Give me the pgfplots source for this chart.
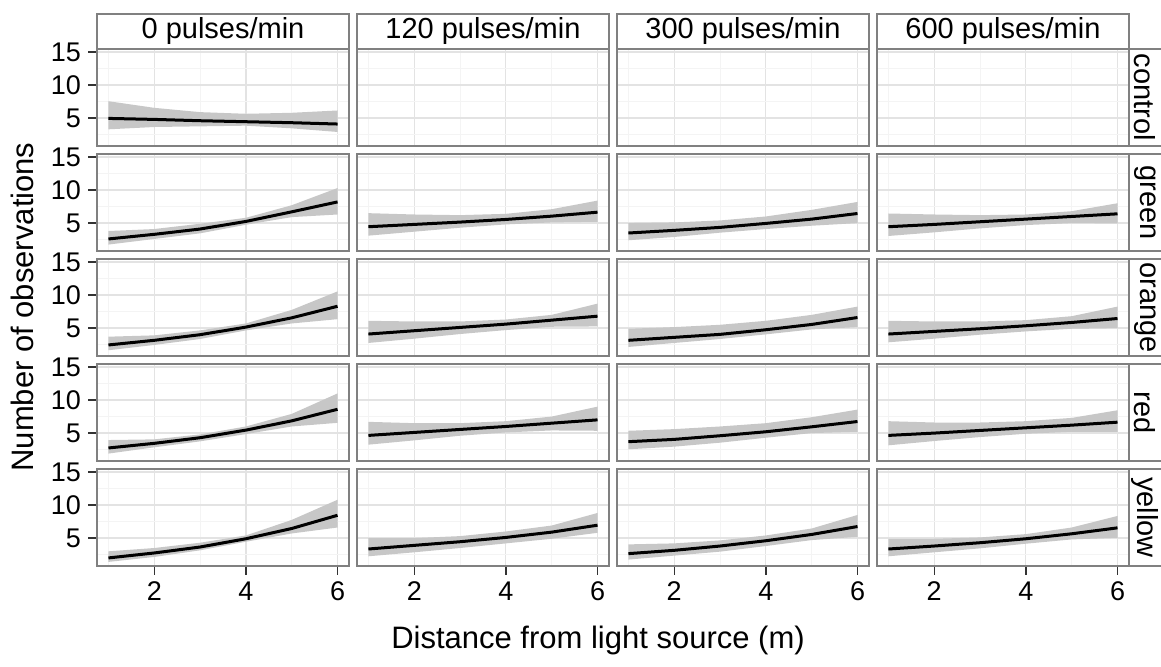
\documentclass[border=0pt]{standalone}
\usepackage{fontspec}
\setmainfont{Liberation Sans}
\usepackage{pgfplots}
\usepackage{pgfplotstable}
\pgfplotsset{compat=1.18}
\usepgfplotslibrary{groupplots,fillbetween}
\usetikzlibrary{calc}

\definecolor{border}{gray}{0.5}
\definecolor{band}{gray}{0.78}
\newcommand\tickfont{\fontsize{13.5}{15}\selectfont}
\newcommand\stripfont{\fontsize{14.5}{16}\selectfont}
\newcommand\titlefont{\fontsize{15.5}{17}\selectfont}

% x = distance (m), y = fitted count, lo/hi = ribbon
\pgfplotstableread{
x y lo hi
1 4.95 3.30 7.55
2 4.80 3.65 6.55
3 4.60 3.75 5.90
4 4.45 3.85 5.65
5 4.30 3.45 5.80
6 4.10 2.90 6.15
}\ctrlA
\pgfplotstableread{
x y lo hi
1 2.60 1.75 3.80
2 3.30 2.60 4.10
3 4.10 3.45 4.90
4 5.25 4.75 5.80
5 6.70 5.90 7.70
6 8.20 6.30 10.30
}\gA
\pgfplotstableread{
x y lo hi
1 4.45 3.10 6.50
2 4.80 3.70 6.30
3 5.15 4.30 6.20
4 5.55 4.80 6.40
5 6.05 5.10 7.10
6 6.65 5.20 8.40
}\gB
\pgfplotstableread{
x y lo hi
1 3.50 2.40 5.00
2 3.90 2.90 5.10
3 4.35 3.55 5.40
4 4.95 4.10 6.00
5 5.60 4.60 7.00
6 6.45 5.00 8.20
}\gC
\pgfplotstableread{
x y lo hi
1 4.45 3.05 6.45
2 4.80 3.60 6.30
3 5.20 4.20 6.20
4 5.60 4.70 6.30
5 6.00 5.00 6.80
6 6.40 4.95 8.00
}\gD
\pgfplotstableread{
x y lo hi
1 2.45 1.65 3.70
2 3.15 2.45 3.90
3 4.00 3.35 4.65
4 5.15 4.65 5.70
5 6.55 5.70 7.75
6 8.30 6.35 10.55
}\oA
\pgfplotstableread{
x y lo hi
1 4.10 2.75 6.10
2 4.60 3.40 6.00
3 5.10 4.10 6.00
4 5.60 4.70 6.30
5 6.20 5.20 7.00
6 6.80 5.25 8.70
}\oB
\pgfplotstableread{
x y lo hi
1 3.15 2.15 4.90
2 3.60 2.75 5.15
3 4.05 3.35 5.50
4 4.75 4.05 6.10
5 5.55 4.80 7.00
6 6.60 5.15 8.25
}\oC
\pgfplotstableread{
x y lo hi
1 4.10 2.85 6.10
2 4.50 3.40 6.00
3 4.90 4.00 6.00
4 5.35 4.50 6.20
5 5.85 4.90 6.80
6 6.45 5.00 8.25
}\oD
\pgfplotstableread{
x y lo hi
1 2.75 1.90 3.95
2 3.45 2.85 4.05
3 4.30 3.75 4.80
4 5.45 4.85 6.00
5 6.85 6.00 7.90
6 8.60 6.55 11.00
}\rA
\pgfplotstableread{
x y lo hi
1 4.65 3.25 6.70
2 5.10 3.90 6.50
3 5.55 4.60 6.50
4 6.00 5.10 6.80
5 6.50 5.40 7.50
6 7.00 5.35 9.00
}\rB
\pgfplotstableread{
x y lo hi
1 3.70 2.55 5.35
2 4.05 2.95 5.60
3 4.60 3.55 6.00
4 5.20 4.30 6.50
5 5.95 5.00 7.40
6 6.75 5.20 8.55
}\rC
\pgfplotstableread{
x y lo hi
1 4.65 3.15 6.80
2 5.00 3.80 6.60
3 5.40 4.40 6.60
4 5.80 4.90 6.80
5 6.20 5.20 7.30
6 6.65 5.20 8.45
}\rD
\pgfplotstableread{
x y lo hi
1 2.00 1.40 3.00
2 2.75 2.15 3.50
3 3.65 3.15 4.30
4 4.90 4.45 5.40
5 6.45 5.70 7.75
6 8.45 6.60 10.80
}\yA
\pgfplotstableread{
x y lo hi
1 3.35 2.25 5.00
2 3.90 2.85 5.00
3 4.45 3.50 5.30
4 5.10 4.20 6.00
5 5.90 4.90 6.90
6 6.95 5.80 8.80
}\yB
\pgfplotstableread{
x y lo hi
1 2.65 1.75 4.05
2 3.15 2.35 4.20
3 3.80 2.95 4.65
4 4.60 3.80 5.40
5 5.55 4.70 6.45
6 6.75 5.20 8.50
}\yC
\pgfplotstableread{
x y lo hi
1 3.35 2.25 4.90
2 3.80 2.85 4.90
3 4.30 3.45 5.10
4 4.90 4.15 5.60
5 5.65 4.80 6.60
6 6.55 5.05 8.35
}\yD

\newcommand\fit[1]{%
  \addplot[draw=none, name path=hi] table[x=x, y=hi] {#1};
  \addplot[draw=none, name path=lo] table[x=x, y=lo] {#1};
  \addplot[fill=band, draw=none] fill between[of=hi and lo];
  \addplot[black, line width=1.5pt] table[x=x, y=y] {#1};
}

\pgfplotsset{
  facet/.style={
    scale only axis, width=126pt, height=48.5pt,
    xmin=0.75, xmax=6.25, ymin=0.78, ymax=15.45,
    xtick={2,4,6}, ytick={5,10,15},
    minor xtick={1,3,5}, minor ytick={2.5,7.5,12.5},
    grid=both,
    major grid style={draw=gray!22, line width=0.6pt},
    minor grid style={draw=gray!9, line width=0.5pt},
    axis line style={draw=border, line width=0.7pt},
    tick pos=left, tick align=outside,
    major tick length=4.5pt, minor tick length=0pt,
    tick style={black!80, line width=0.7pt},
    ticklabel style={font=\tickfont},
    /pgf/number format/assume math mode=true,
  },
  noX/.style={xmajorticks=false},
  noY/.style={ymajorticks=false},
}
\tikzset{strip/.style={draw=border, line width=0.7pt, fill=white}}

\begin{document}
\begin{tikzpicture}
\begin{groupplot}[
  group style={group size=4 by 5, horizontal sep=4pt, vertical sep=4pt,
    xticklabels at=edge bottom, yticklabels at=edge left},
  facet]
% control
\nextgroupplot[noX] \fit{\ctrlA}
\nextgroupplot[noX,noY]
\nextgroupplot[noX,noY]
\nextgroupplot[noX,noY]
% green
\nextgroupplot[noX] \fit{\gA}
\nextgroupplot[noX,noY] \fit{\gB}
\nextgroupplot[noX,noY] \fit{\gC}
\nextgroupplot[noX,noY] \fit{\gD}
% orange
\nextgroupplot[noX] \fit{\oA}
\nextgroupplot[noX,noY] \fit{\oB}
\nextgroupplot[noX,noY] \fit{\oC}
\nextgroupplot[noX,noY] \fit{\oD}
% red
\nextgroupplot[noX] \fit{\rA}
\nextgroupplot[noX,noY] \fit{\rB}
\nextgroupplot[noX,noY] \fit{\rC}
\nextgroupplot[noX,noY] \fit{\rD}
% yellow
\nextgroupplot \fit{\yA}
\nextgroupplot[noY] \fit{\yB}
\nextgroupplot[noY] \fit{\yC}
\nextgroupplot[noY] \fit{\yD}
\end{groupplot}

% column strips
\draw[strip] (group c1r1.north west) rectangle ($(group c1r1.north east)+(0,17.5pt)$);
\draw[strip] (group c2r1.north west) rectangle ($(group c2r1.north east)+(0,17.5pt)$);
\draw[strip] (group c3r1.north west) rectangle ($(group c3r1.north east)+(0,17.5pt)$);
\draw[strip] (group c4r1.north west) rectangle ($(group c4r1.north east)+(0,17.5pt)$);
\node[font=\stripfont] at ($(group c1r1.north)+(0,8.75pt)$) {0 pulses/min};
\node[font=\stripfont] at ($(group c2r1.north)+(0,8.75pt)$) {120 pulses/min};
\node[font=\stripfont] at ($(group c3r1.north)+(0,8.75pt)$) {300 pulses/min};
\node[font=\stripfont] at ($(group c4r1.north)+(0,8.75pt)$) {600 pulses/min};

% row strips
\draw[strip] (group c4r1.north east) rectangle ($(group c4r1.south east)+(17pt,0)$);
\draw[strip] (group c4r2.north east) rectangle ($(group c4r2.south east)+(17pt,0)$);
\draw[strip] (group c4r3.north east) rectangle ($(group c4r3.south east)+(17pt,0)$);
\draw[strip] (group c4r4.north east) rectangle ($(group c4r4.south east)+(17pt,0)$);
\draw[strip] (group c4r5.north east) rectangle ($(group c4r5.south east)+(17pt,0)$);
\node[font=\stripfont, rotate=-90] at ($(group c4r1.east)+(8pt,0)$) {control};
\node[font=\stripfont, rotate=-90] at ($(group c4r2.east)+(8pt,0)$) {green};
\node[font=\stripfont, rotate=-90] at ($(group c4r3.east)+(8pt,0)$) {orange};
\node[font=\stripfont, rotate=-90] at ($(group c4r4.east)+(8pt,0)$) {red};
\node[font=\stripfont, rotate=-90] at ($(group c4r5.east)+(8pt,0)$) {yellow};

% axis titles
\coordinate (O) at (group c1r5.south west);
\node[font=\titlefont, rotate=90] at ($(O)+(-37.5pt,129.5pt)$) {Number of observations};
\node[font=\titlefont] at ($(O)+(250.5pt,-37pt)$) {Distance from light source (m)};

\pgfresetboundingbox
\path[use as bounding box] ($(O)+(-48.5pt,-50.5pt)$) rectangle ++(580.5pt,333.5pt);
\end{tikzpicture}
\end{document}
